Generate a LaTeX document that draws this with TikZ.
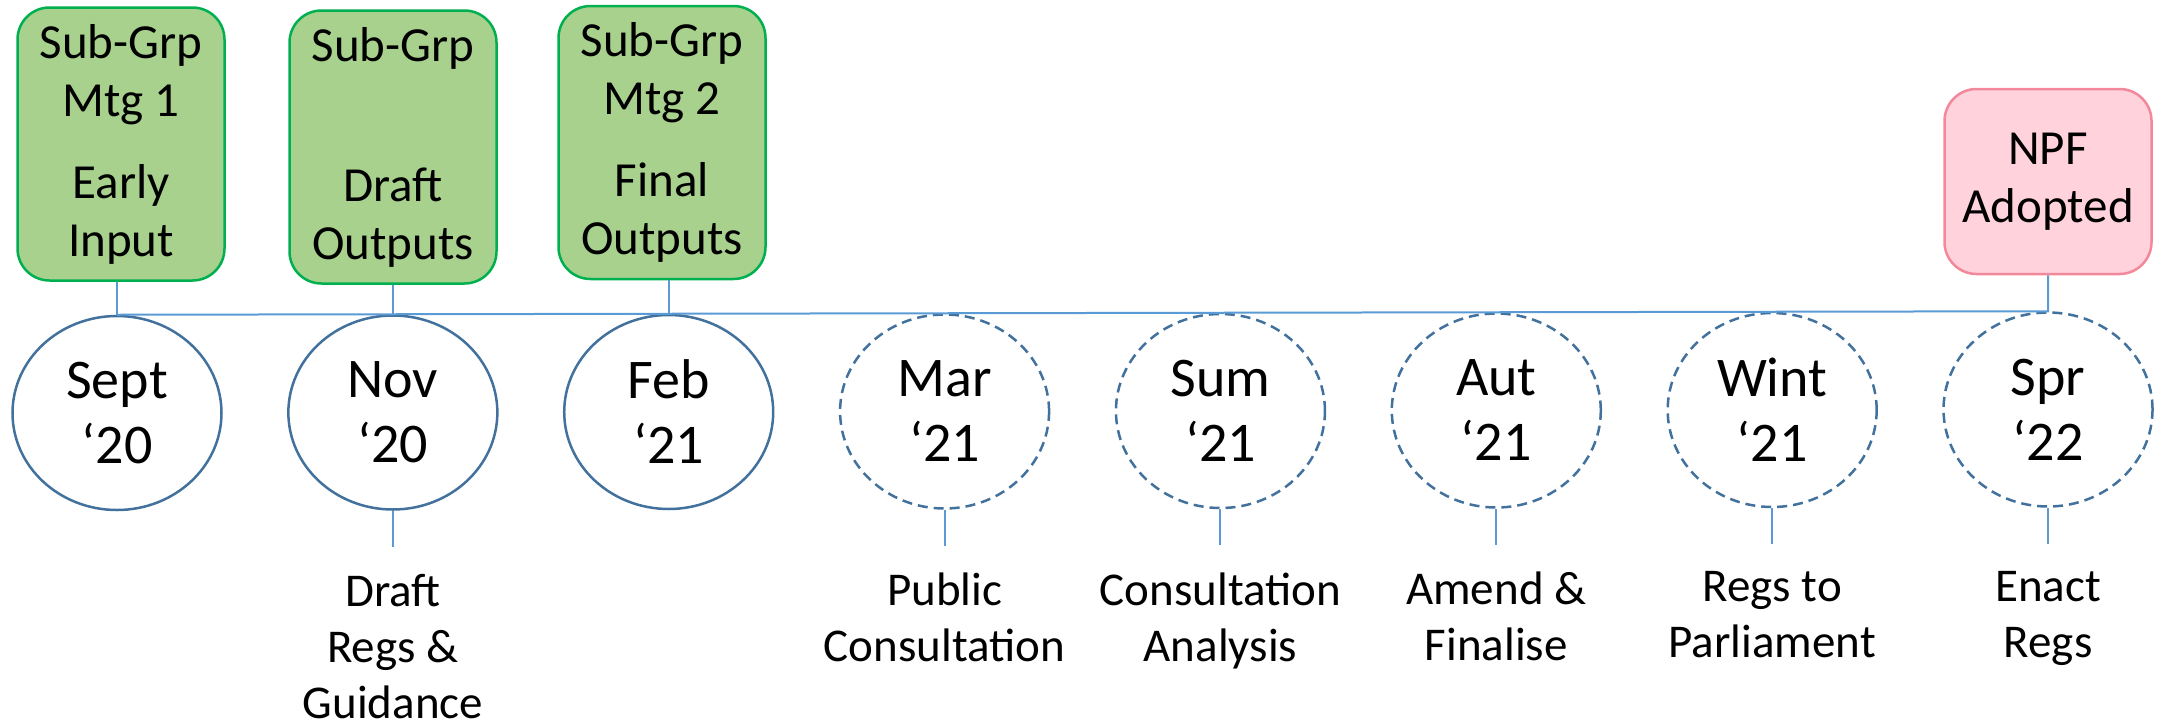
\documentclass[tikz,border=0pt]{standalone}
\usepackage{fontspec}
\setmainfont{Carlito}
\usetikzlibrary{shapes}
\definecolor{grpfill}{HTML}{A9D18E}
\definecolor{grpline}{HTML}{00B050}
\definecolor{npffill}{HTML}{FFD2DC}
\definecolor{npfline}{HTML}{F2889A}
\definecolor{ringline}{HTML}{41719C}
\definecolor{linkline}{HTML}{5B9BD5}

\begin{document}
\begin{tikzpicture}[x=1pt, y=-1pt,
month/.style={ellipse, draw=ringline, line width=2.5pt, minimum width=209pt, minimum height=194pt, inner sep=0pt, align=center, font=\fontsize{56}{65}\selectfont},
later/.style={month, dash pattern=on 10pt off 6pt},
grp/.style={rectangle, rounded corners=32pt, draw=grpline, fill=grpfill, line width=2.5pt, minimum width=207pt, minimum height=273pt, inner sep=0pt, align=center, font=\fontsize{49}{58}\selectfont},
npf/.style={grp, draw=npfline, fill=npffill, minimum height=185pt},
task/.style={anchor=north, inner sep=0pt, align=center, font=\fontsize{47}{56}\selectfont},
link/.style={draw=linkline, line width=2pt}]

\useasboundingbox (0,0) rectangle (2157,726);

\foreach \i/\m/\yr in {1/Sept/20,2/Nov/20,3/Feb/21}
{\node[month] (c\i) at ({117+275.86*(\i-1)},{413.5-0.5*\i}) {\m\\‘\yr};}
\foreach \i/\m/\yr in {4/Mar/21,5/Sum/21,6/Aut/21,7/Wint/21,8/Spr/22}
{\node[later] (c\i) at ({117+275.86*(\i-1)},{413.5-0.5*\i}) {\m\\‘\yr};}

\node[grp] (g1) at (121,144) {Sub-Grp\\Mtg 1\\[24pt]Early\\Input};
\node[grp] (g2) at (393,147) {Sub-Grp\\\mbox{}\\[24pt]Draft\\Outputs};
\node[grp] (g3) at (662,142.5) {Sub-Grp\\Mtg 2\\[24pt]Final\\Outputs};
\node[npf] (p8) at (2048,181.5) {NPF\\Adopted};

\foreach \i in {1,2,3}{\draw[link] (g\i.south -| c\i.north) -- (c\i.north);}
\draw[link] (c1.north) -- (c8.north) -- (p8.south);

\foreach \i/\txt in {2/{Draft\\Regs \&\\Guidance},4/{Public\\Consultation},5/{Consultation\\Analysis},6/{Amend \&\\Finalise},7/{Regs to\\Parliament},8/{Enact\\Regs}}
{
\coordinate (e\i) at ([yshift=-36pt]c\i.south);
\node[task] (t\i) at ([yshift=-27pt]e\i) {\txt};
\draw[link] (c\i.south) -- (e\i);
}
\end{tikzpicture}
\end{document}
